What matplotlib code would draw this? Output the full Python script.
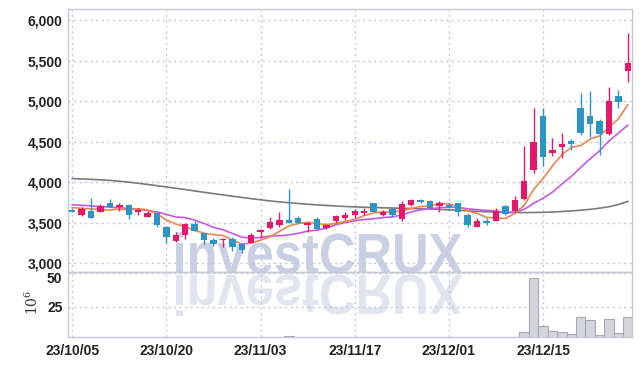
import matplotlib.pyplot as plt
import numpy as np
from matplotlib.textpath import TextPath
from matplotlib.patches import PathPatch
from matplotlib.font_manager import FontProperties
from matplotlib.transforms import Affine2D, IdentityTransform, ScaledTranslation
from matplotlib.ticker import FuncFormatter

# tick labels on the date axis (trading-day index -> label)
tick_idx = [0, 10, 20, 30, 40, 50]
tick_labels = ['23/10/05', '23/10/20', '23/11/03', '23/11/17', '23/12/01', '23/12/15']

# daily OHLC
opens = [3660, 3592, 3653, 3641, 3747, 3695, 3723, 3637, 3576, 3621,
         3450, 3273, 3347, 3490, 3376, 3285, 3285, 3306, 3236, 3254,
         3388, 3441, 3469, 3539, 3564, 3469, 3551, 3441, 3518, 3560,
         3592, 3625, 3747, 3604, 3674, 3551, 3727, 3788, 3768, 3706,
         3727, 3747, 3600, 3450, 3530, 3530, 3715, 3653, 3796, 4155,
         4817, 4368, 4437, 4511, 4923, 4817, 4752, 4596, 5070, 5369]
highs = [3690, 3700, 3805, 3730, 3790, 3745, 3730, 3686, 3650, 3630,
         3460, 3390, 3500, 3520, 3380, 3310, 3310, 3330, 3250, 3380,
         3430, 3570, 3641, 3919, 3580, 3510, 3570, 3480, 3600, 3630,
         3670, 3680, 3750, 3660, 3700, 3775, 3800, 3800, 3780, 3770,
         3745, 3750, 3620, 3560, 3560, 3680, 3720, 3830, 4449, 4920,
         4920, 4551, 4605, 4530, 5103, 5133, 4785, 5180, 5144, 5838]
lows = [3630, 3590, 3565, 3630, 3698, 3653, 3548, 3592, 3576, 3450,
        3254, 3270, 3300, 3400, 3245, 3210, 3204, 3160, 3131, 3250,
        3318, 3430, 3450, 3499, 3499, 3388, 3420, 3420, 3500, 3540,
        3560, 3600, 3641, 3590, 3570, 3530, 3710, 3740, 3680, 3641,
        3680, 3584, 3450, 3450, 3480, 3520, 3600, 3640, 3780, 4110,
        4204, 4320, 4307, 4400, 4580, 4564, 4335, 4590, 4920, 5238]
closes = [3640, 3674, 3567, 3710, 3698, 3723, 3592, 3661, 3625, 3469,
          3327, 3355, 3490, 3401, 3294, 3236, 3306, 3205, 3163, 3347,
          3417, 3511, 3539, 3499, 3499, 3499, 3429, 3469, 3582, 3600,
          3646, 3653, 3641, 3641, 3592, 3735, 3788, 3755, 3682, 3747,
          3695, 3641, 3478, 3530, 3502, 3653, 3612, 3788, 4020, 4498,
          4315, 4400, 4470, 4479, 4605, 4719, 4593, 5009, 4988, 5479]

# volume in millions of shares
volume = [0.8, 0.6, 1.0, 0.7, 0.6, 0.5, 0.9, 0.6, 0.5, 0.9,
          1.2, 0.8, 1.0, 0.7, 0.8, 0.6, 0.5, 0.7, 0.9, 1.1,
          1.0, 1.3, 1.8, 3.2, 1.4, 0.9, 1.0, 0.6, 0.9, 0.8,
          0.8, 0.6, 0.9, 0.6, 0.7, 1.4, 1.1, 0.7, 0.8, 0.9,
          0.7, 0.9, 1.2, 0.8, 0.6, 1.0, 0.9, 1.9, 5.8, 46.4,
          10.5, 6.7, 6.0, 4.5, 17.2, 15.0, 3.7, 15.7, 5.2, 17.2]

# moving averages as drawn on the chart
ma5 = [3690, 3680, 3672, 3668, 3658, 3674, 3658, 3677, 3660, 3614,
       3535, 3487, 3453, 3408, 3373, 3355, 3345, 3288, 3241, 3251,
       3288, 3329, 3395, 3463, 3493, 3509, 3493, 3479, 3496, 3516,
       3545, 3590, 3624, 3636, 3635, 3652, 3679, 3702, 3710, 3741,
       3733, 3704, 3649, 3618, 3569, 3561, 3555, 3617, 3715, 3914,
       4047, 4204, 4341, 4432, 4454, 4535, 4573, 4681, 4783, 4958]
ma10 = [3725, 3718, 3710, 3702, 3695, 3688, 3678, 3666, 3652, 3636,
        3605, 3573, 3565, 3534, 3494, 3445, 3416, 3371, 3325, 3312,
        3321, 3337, 3342, 3352, 3372, 3399, 3411, 3437, 3479, 3504,
        3527, 3542, 3552, 3566, 3575, 3599, 3635, 3663, 3673, 3688,
        3693, 3692, 3675, 3664, 3655, 3647, 3630, 3633, 3667, 3742,
        3804, 3880, 3979, 4074, 4184, 4291, 4389, 4511, 4608, 4706]
ma60 = [4047, 4043, 4038, 4032, 4025, 4015, 4003, 3990, 3975, 3960,
        3944, 3928, 3912, 3895, 3878, 3862, 3846, 3830, 3815, 3800,
        3786, 3772, 3760, 3750, 3740, 3731, 3723, 3716, 3709, 3703,
        3698, 3694, 3690, 3687, 3684, 3681, 3678, 3675, 3671, 3667,
        3662, 3656, 3650, 3644, 3638, 3634, 3631, 3629, 3628, 3629,
        3631, 3635, 3641, 3648, 3657, 3668, 3682, 3700, 3728, 3765]

UP = '#e5186b'
DOWN = '#2c95c8'
GRID = '#c3c7dd'
SPINE = '#c9c9d3'
tick_font = ['Liberation Sans Narrow', 'Liberation Sans', 'DejaVu Sans']

W, H = 642, 366
fig = plt.figure(figsize=(W / 100, H / 100), dpi=100)
fig.patch.set_facecolor('white')

ax = fig.add_axes([68 / W, (H - 272) / H, 564 / W, 263 / H])
axv = fig.add_axes([68 / W, (H - 337) / H, 564 / W, 65 / H], sharex=ax)
for a in (ax, axv):
    a.set_facecolor('none')
    for s in a.spines.values():
        s.set_color(SPINE)
        s.set_linewidth(1.0)
    a.grid(True, color=GRID, linestyle=(0, (1.5, 2.5)), linewidth=1.0)
    a.set_axisbelow(True)
    a.tick_params(length=0, colors='#222222', labelsize=10)

x = np.arange(len(closes))
o = np.array(opens)
c = np.array(closes)
cols = [UP if cc >= oo else DOWN for oo, cc in zip(opens, closes)]

# moving average lines
ax.plot(x, ma60, color='#7a7a7a', lw=1.2, zorder=2)
ax.plot(x, ma10, color='#c658e8', lw=1.2, zorder=2)
ax.plot(x, ma5, color='#f0854a', lw=1.2, zorder=2)

# candles
ax.vlines(x, lows, highs, colors=cols, lw=1.0, zorder=3)
ax.bar(x, np.maximum(np.abs(c - o), 12), bottom=np.minimum(o, c), width=0.68,
       color=cols, zorder=4)

ax.set_xlim(-0.45, 59.45)
ax.set_ylim(2895, 6139)
ax.set_yticks([3000, 3500, 4000, 4500, 5000, 5500, 6000])
ax.yaxis.set_major_formatter(FuncFormatter(lambda v, p: f'{int(v):,}'))
ax.tick_params(axis='x', labelbottom=False)
ax.tick_params(axis='y', pad=4)

# volume
axv.bar(x, volume, width=1.0, color='#d4d4db', edgecolor='#a9a9b3',
        linewidth=0.8, zorder=3)
axv.set_ylim(2.3, 50.75)
axv.set_yticks([25, 50])
axv.set_xticks(tick_idx)
axv.set_xticklabels(tick_labels)
axv.tick_params(axis='x', pad=5)
axv.tick_params(axis='y', pad=4)

for lab in ax.get_yticklabels() + axv.get_yticklabels() + axv.get_xticklabels():
    lab.set_family(tick_font)
    lab.set_fontweight('bold')

# the top volume label sits a little below its tick, as in the source chart
top_lab = axv.get_yticklabels()[-1]
top_lab.set_transform(top_lab.get_transform() +
                      ScaledTranslation(0, -4 / 100, fig.dpi_scale_trans))

fig.text(32 / W, (H - 302) / H, r'$10^6$', rotation=90, ha='center', va='center',
         fontsize=10, color='#333333', math_fontfamily='dejavuserif')

# watermark with reflection
fp = FontProperties(family='Liberation Sans', weight='bold')
tp = TextPath((0, 0), 'investCRUX', size=100, prop=fp)
bb = tp.get_extents()
sx = (462 - 176) / bb.width
sy = 41 / bb.y1
base = H - 273
tr = Affine2D().translate(-bb.x0, 0).scale(sx, sy).translate(176, base)
fig.add_artist(PathPatch(tr.transform_path(tp), facecolor='#c9d0e4',
                         edgecolor='none', transform=IdentityTransform(), zorder=-1))
trr = Affine2D().translate(-bb.x0, 0).scale(sx, -sy).translate(176, base - 2)
fig.add_artist(PathPatch(trr.transform_path(tp), facecolor='#e1e5f0',
                         edgecolor='none', transform=IdentityTransform(), zorder=-1))

fig.savefig('out.png', dpi=100, facecolor='white')
